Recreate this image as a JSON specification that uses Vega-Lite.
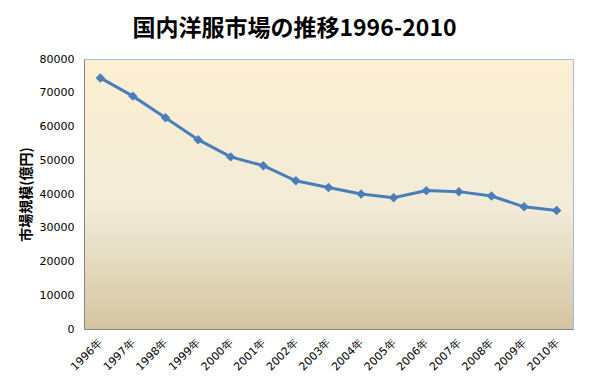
{
  "$schema": "https://vega.github.io/schema/vega-lite/v6.json",
  "width": 489,
  "height": 270,
  "autosize": {"type": "none"},
  "padding": {"left": 84, "top": 59, "right": 16, "bottom": 59},
  "background": "white",
  "title": {
    "text": "国内洋服市場の推移1996-2010",
    "fontSize": 23,
    "font": "Noto Sans CJK JP",
    "fontWeight": "bold",
    "color": "#000000",
    "anchor": "middle",
    "dx": -34,
    "offset": 12
  },
  "data": {
    "values": [
      {"year": "1996年", "value": 74400},
      {"year": "1997年", "value": 69000},
      {"year": "1998年", "value": 62600},
      {"year": "1999年", "value": 56100},
      {"year": "2000年", "value": 51000},
      {"year": "2001年", "value": 48400},
      {"year": "2002年", "value": 43900},
      {"year": "2003年", "value": 41900},
      {"year": "2004年", "value": 40000},
      {"year": "2005年", "value": 38900},
      {"year": "2006年", "value": 41000},
      {"year": "2007年", "value": 40700},
      {"year": "2008年", "value": 39400},
      {"year": "2009年", "value": 36200},
      {"year": "2010年", "value": 35100}
    ]
  },
  "encoding": {
    "x": {
      "field": "year",
      "type": "ordinal",
      "scale": {"type": "point", "padding": 0.5},
      "axis": {
        "title": null,
        "labelAngle": -45,
        "labelAlign": "right",
        "labelBaseline": "middle",
        "labelFont": "DejaVu Sans",
        "labelFontSize": 11,
        "labelColor": "#000000",
        "domainColor": "#868686",
        "ticks": false,
        "labelPadding": 12
      }
    },
    "y": {
      "field": "value",
      "type": "quantitative",
      "scale": {"domain": [0, 80000], "nice": false},
      "axis": {
        "title": "市場規模(億円)",
        "titleFont": "Noto Sans CJK JP",
        "titleFontSize": 14,
        "titleFontWeight": "bold",
        "titleColor": "#000000",
        "titlePadding": 6,
        "values": [0, 10000, 20000, 30000, 40000, 50000, 60000, 70000, 80000],
        "format": "d",
        "labelFont": "DejaVu Sans",
        "labelFontSize": 11,
        "labelColor": "#000000",
        "grid": false,
        "ticks": false,
        "domainColor": "#868686",
        "labelPadding": 10
      }
    }
  },
  "layer": [
    {
      "mark": {"type": "line", "color": "#4A7EBB", "strokeWidth": 3}
    },
    {
      "mark": {"type": "point", "shape": "diamond", "filled": true, "color": "#4A7EBB", "size": 90, "opacity": 1}
    }
  ],
  "config": {
    "view": {
      "stroke": "#a9bcd9",
      "strokeWidth": 1,
      "fill": {
        "gradient": "linear",
        "x1": 0, "y1": 0, "x2": 0, "y2": 1,
        "stops": [
          {"offset": 0, "color": "#FDEFD2"},
          {"offset": 0.55, "color": "#F1EBD8"},
          {"offset": 1, "color": "#D5C5A1"}
        ]
      }
    }
  }
}
